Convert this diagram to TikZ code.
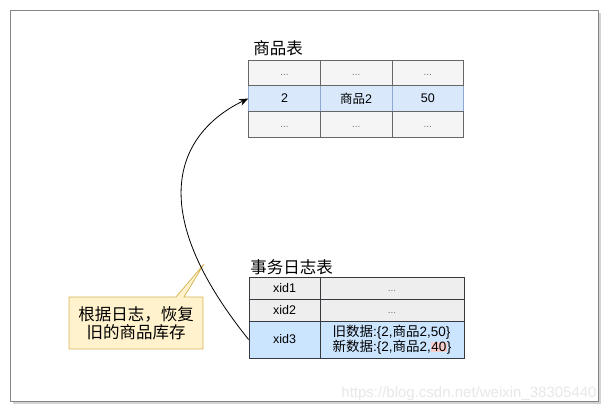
\documentclass[tikz,border=0pt]{standalone}
\usepackage{fontspec}
\setmainfont{Liberation Sans}
\newfontfamily\cjk{Noto Sans CJK SC}
\usetikzlibrary{arrows.meta,shadows}
\definecolor{cellgray}{HTML}{F5F5F5}\definecolor{cellline}{HTML}{666666}
\definecolor{rowblue}{HTML}{DAE8FC}\definecolor{rowline}{HTML}{8FA8CF}
\definecolor{loggray}{HTML}{EEEEEE}\definecolor{logline}{HTML}{36393D}
\definecolor{logblue}{HTML}{CCE5FF}
\definecolor{notefill}{HTML}{FFF2CC}\definecolor{noteline}{HTML}{D6B656}
\definecolor{hilite}{HTML}{F8CECC}\definecolor{frameline}{HTML}{858585}
\setlength{\fboxsep}{0.6pt}
\tikzset{
  cell/.style={draw=cellline,fill=cellgray,minimum width=71.7pt,minimum height=25.7pt,inner sep=0pt,font=\fontsize{12.5}{15}\selectfont},
  bluecell/.style={cell,draw=rowline,fill=rowblue},
  logcell/.style={cell,draw=logline,fill=loggray,minimum height=22pt},
  dots/.style={text=black!55,text height=8pt,text depth=2pt,font=\fontsize{10}{10}\selectfont},
  tabletitle/.style={anchor=south west,inner sep=0pt,font=\cjk\fontsize{16.5}{18}\selectfont},
}
\begin{document}
\begin{tikzpicture}[x=1pt,y=-1pt,line width=.8pt]
\useasboundingbox (0,0) rectangle (609,413);
\draw[frameline,fill=white,drop shadow={shadow xshift=3pt,shadow yshift=-3pt,opacity=.35}] (10,10) rectangle (598,401);
% goods table
\node[bluecell] (rowa) at (284.5,98.5) {2}; \node[bluecell] (rowb) at (356.2,98.5) {{\cjk 商品}2}; \node[bluecell] (rowc) at (427.8,98.5) {50};
\foreach \x/\n in {284.5/a,356.2/b,427.8/c}{
  \node[cell,dots] (upper\n) at (\x,72.8) {...}; \node[cell,dots] (lower\n) at (\x,124.2) {...};
}
\node[tabletitle] (goodstitle) at (253,56) {商品表};
% log table
\node[logcell,minimum width=71pt] (xid1) at (284.5,288) {xid1}; \node[logcell,dots,minimum width=144pt] (log1) at (392,288) {...};
\node[logcell,minimum width=71pt] (xid2) at (284.5,310) {xid2}; \node[logcell,dots,minimum width=144pt] (log2) at (392,310) {...};
\node[logcell,fill=logblue,minimum width=71pt,minimum height=37pt] (xid3) at (284.5,339.5) {xid3};
\node[logcell,fill=logblue,minimum width=144pt,minimum height=37pt,align=left,font=\fontsize{13.5}{15.5}\selectfont] (log3) at (392,339.5) {{\cjk 旧数据}:\{2,{\cjk 商品}2,50\}\\{\cjk 新数据}:\{2,{\cjk 商品}2,\colorbox{hilite}{40}\}};
\node[tabletitle] (logtitle) at (250,275) {事务日志表};
% note
\draw[noteline,fill=notefill] (69,297) -- (176,297) -- (204,264) -- (184,297) -- (203,297) -- (203,349) -- (69,349) -- cycle;
\node[align=center,font=\cjk\fontsize{16.5}{18}\selectfont] (note) at (136,323) {根据日志，恢复\\旧的商品库存};
\draw[-{Stealth[length=9pt,width=7pt]}] (xid3.west) .. controls (135,198) and (187,128) .. (rowa.west);
\node[anchor=south east,inner sep=0pt,text=black!9,font=\fontsize{15}{16}\selectfont] (watermark) at (597,401) {https://blog.csdn.net/weixin\_38305440};
\end{tikzpicture}
\end{document}
